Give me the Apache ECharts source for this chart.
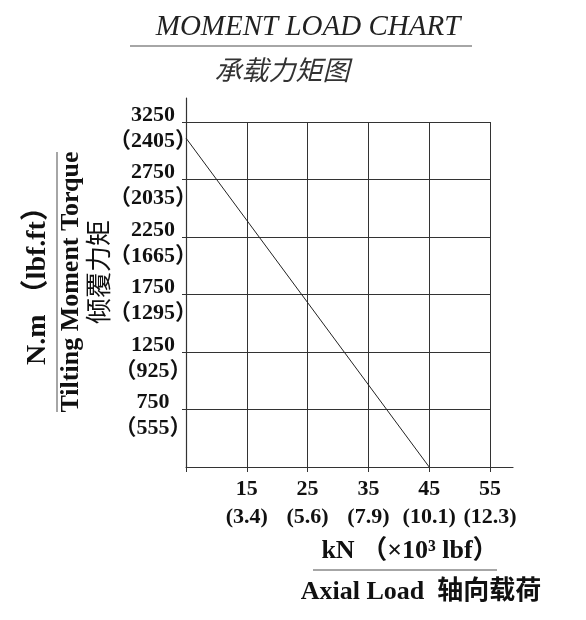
<!DOCTYPE html>
<html>
<head>
<meta charset="utf-8">
<script src="https://cdn.jsdelivr.net/npm/echarts@6/dist/echarts.min.js"></script>
<style>
  html, body { margin: 0; padding: 0; background: #fff; }
  #main { width: 586px; height: 620px; }
</style>
</head>
<body>
<div id="main"></div>
<script>
// 数据
var axialKN = [5, 45];
var torqueNm = [3110, 250];
var xTickKN = [15, 25, 35, 45, 55];
var xTickLbf = ['3.4', '5.6', '7.9', '10.1', '12.3'];
var yTickNm = [3250, 2750, 2250, 1750, 1250, 750];
var yTickLbfFt = [2405, 2035, 1665, 1295, 925, 555];

var serif = '"Liberation Serif", "Noto Sans CJK SC", serif';
var lineColor = '#333';

var myChart = echarts.init(document.getElementById('main'));

// 左侧刻度标签: 上面 N.m, 下面括号里 lbf.ft, 分两个轴画
function leftLabels(list, fmt, va, lh) {
    return {
        margin: 33, align: 'center', verticalAlign: va, lineHeight: lh,
        showMaxLabel: true, showMinLabel: false,
        fontFamily: serif, fontWeight: 'bold', fontSize: 22, color: '#111',
        formatter: function (v) {
            var i = yTickNm.indexOf(v);
            return i < 0 ? '' : fmt(list[i]);
        }
    };
}

myChart.setOption({
    backgroundColor: '#fff',
    animation: false,
    title: [{
        text: 'MOMENT LOAD CHART',
        left: 303, top: 8, textAlign: 'center',
        textStyle: { fontFamily: serif, fontStyle: 'italic', fontWeight: 'normal', fontSize: 29, color: '#222' }
    }, {
        text: '承载力矩图',
        left: 277, top: 51, textAlign: 'center',
        textStyle: { fontFamily: '"Noto Sans CJK SC", sans-serif', fontStyle: 'italic', fontWeight: 'normal', fontSize: 27, color: '#333' }
    }],
    grid: [
        { left: 186, top: 122, right: 96, bottom: 153 },
        // 只画轴线(比网格长一点)
        { left: 186, top: 98, right: 73, bottom: 153 }
    ],
    xAxis: [{
        gridIndex: 0, type: 'value', min: 5, max: 55, interval: 10,
        axisLine: { show: false },
        axisTick: { show: true, length: 5, lineStyle: { color: lineColor } },
        splitLine: { lineStyle: { color: lineColor, width: 1 } },
        axisLabel: {
            margin: 8, lineHeight: 28, showMaxLabel: true,
            fontFamily: serif, fontWeight: 'bold', fontSize: 22, color: '#111',
            formatter: function (v) {
                var i = xTickKN.indexOf(v);
                return i < 0 ? '' : xTickKN[i] + '\n(' + xTickLbf[i] + ')';
            }
        }
    }, {
        gridIndex: 1, type: 'value', min: 0, max: 1,
        axisLine: { show: true, lineStyle: { color: lineColor, width: 1.2 } },
        axisTick: { show: false }, axisLabel: { show: false }, splitLine: { show: false }
    }],
    yAxis: [{
        gridIndex: 0, type: 'value', min: 250, max: 3250, interval: 500,
        axisLine: { show: false },
        axisTick: { show: true, length: 4, lineStyle: { color: lineColor } },
        splitLine: { lineStyle: { color: lineColor, width: 1 } },
        axisLabel: leftLabels(yTickNm, function (n) { return '' + n; }, 'bottom', 14)
    }, {
        gridIndex: 1, type: 'value', min: 0, max: 1,
        axisLine: { show: true, lineStyle: { color: lineColor, width: 1.2 } },
        axisTick: { show: false }, axisLabel: { show: false }, splitLine: { show: false }
    }, {
        gridIndex: 0, type: 'value', min: 250, max: 3250, interval: 500, position: 'left',
        axisLine: { show: false }, axisTick: { show: false }, splitLine: { show: false },
        axisLabel: leftLabels(yTickLbfFt, function (n) { return '（' + n + '）'; }, 'top', 38)
    }],
    series: [{
        type: 'line',
        xAxisIndex: 0, yAxisIndex: 0,
        data: axialKN.map(function (x, i) { return [x, torqueNm[i]]; }),
        symbol: 'none',
        lineStyle: { color: '#222', width: 1 }
    }],
    graphic: [
        { type: 'line', shape: { x1: 130, y1: 46, x2: 472, y2: 46 }, style: { stroke: '#888', lineWidth: 1.5 } },
        { type: 'text', x: 410, y: 551, style: { text: 'kN （×10³ lbf）', font: 'bold 26px ' + serif, fill: '#111', textAlign: 'center', textVerticalAlign: 'middle' } },
        { type: 'line', shape: { x1: 313, y1: 570, x2: 497, y2: 570 }, style: { stroke: '#888', lineWidth: 1.5 } },
        { type: 'text', x: 421, y: 592, style: { text: 'Axial Load  轴向载荷', font: 'bold 26px ' + serif, fill: '#111', textAlign: 'center', textVerticalAlign: 'middle' } },
        { type: 'text', x: 38, y: 279, rotation: Math.PI / 2, style: { text: 'N.m （lbf.ft）', font: 'bold 28px ' + serif, fill: '#111', textAlign: 'center', textVerticalAlign: 'middle' } },
        { type: 'line', shape: { x1: 57, y1: 152, x2: 57, y2: 412 }, style: { stroke: '#888', lineWidth: 1.5 } },
        { type: 'text', x: 71, y: 282, rotation: Math.PI / 2, style: { text: 'Tilting Moment Torque', font: 'bold 26px ' + serif, fill: '#111', textAlign: 'center', textVerticalAlign: 'middle' } },
        { type: 'text', x: 98, y: 272, rotation: Math.PI / 2, style: { text: '倾覆力矩', font: '26px "Noto Sans CJK SC", sans-serif', fill: '#111', textAlign: 'center', textVerticalAlign: 'middle' } }
    ]
});
</script>
</body>
</html>
